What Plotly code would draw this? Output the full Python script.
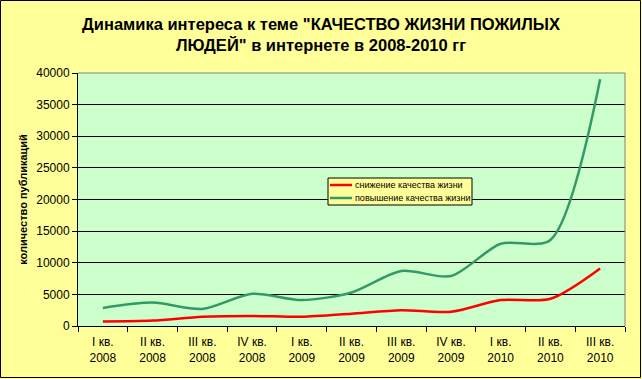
import plotly.graph_objects as go

categories = ["I кв.<br>2008", "II кв.<br>2008", "III кв.<br>2008", "IV кв.<br>2008",
              "I кв.<br>2009", "II кв.<br>2009", "III кв.<br>2009", "IV кв.<br>2009",
              "I кв.<br>2010", "II кв.<br>2010", "III кв.<br>2010"]
decrease = [700, 850, 1450, 1600, 1450, 1950, 2500, 2250, 4100, 4300, 9100]
increase = [2850, 3700, 2700, 5100, 4100, 5300, 8700, 7900, 13000, 13600, 39000]
series_names = ["снижение качества жизни", "повышение качества жизни"]
series_colors = ["#FF0000", "#339966"]
y_ticks = [0, 5000, 10000, 15000, 20000, 25000, 30000, 35000, 40000]
y_tick_labels = ["0", "5000", "10000", "15000", "20000", "25000", "30000", "35000", "40000"]

W, H = 642, 379
L, R, T, B = 78, 17, 73, 53
pw, ph = W - L - R, H - T - B


def px_x(px):
    return (px - L) / pw


def px_y(py):
    return (T + ph - py) / ph


fig = go.Figure()
for vals, name, col in zip([decrease, increase], series_names, series_colors):
    fig.add_trace(go.Scatter(x=categories, y=vals, mode="lines", name=name, showlegend=False,
                             line=dict(color=col, width=2.5, shape="spline", smoothing=0.8)))

# manual compact legend (Excel-style)
shapes = [
    dict(type="rect", xref="paper", yref="paper",
         x0=-(L - 0.5) / pw, x1=1 + (R - 1.5) / pw, y0=-(B - 1.5) / ph, y1=1 + (T - 0.5) / ph,
         line=dict(color="black", width=1), fillcolor="rgba(0,0,0,0)", layer="below"),
    dict(type="line", xref="paper", yref="paper", x0=0, x1=1, y0=1, y1=1,
         line=dict(color="#808080", width=1)),
    dict(type="line", xref="paper", yref="paper", x0=1, x1=1, y0=0, y1=1,
         line=dict(color="#808080", width=1)),
    dict(type="rect", xref="paper", yref="paper", x0=px_x(328), x1=px_x(472),
         y0=px_y(205), y1=px_y(178), line=dict(color="black", width=1), fillcolor="#FFFF99",
         layer="above"),
]
annotations = []
for i, (name, col) in enumerate(zip(series_names, series_colors)):
    yy = 185 + i * 13
    shapes.append(dict(type="line", xref="paper", yref="paper", x0=px_x(330), x1=px_x(352),
                       y0=px_y(yy), y1=px_y(yy), line=dict(color=col, width=2.5)))
    annotations.append(dict(text=name, xref="paper", yref="paper", x=px_x(353), y=px_y(yy),
                            xanchor="left", yanchor="middle", showarrow=False,
                            font=dict(size=9, color="black")))

fig.update_layout(
    width=W, height=H,
    margin=dict(l=L, r=R, t=T, b=B),
    paper_bgcolor="#FFFF99",
    plot_bgcolor="#CCFFCC",
    font=dict(family="Liberation Sans, Arial", size=12, color="black"),
    title=dict(text="<b>Динамика интереса к теме \"КАЧЕСТВО ЖИЗНИ ПОЖИЛЫХ<br>ЛЮДЕЙ\" в интернете в 2008-2010 гг</b>",
               x=0.5, xanchor="center", y=1 - 30 / H, yanchor="top",
               font=dict(size=16.5, family="Liberation Sans, Arial")),
    showlegend=False,
    xaxis=dict(type="category", showgrid=False, showline=True, linecolor="black", linewidth=1,
               ticks="outside", tickson="boundaries", ticklen=5, tickcolor="black",
               tickfont=dict(size=12), mirror=False, range=[-0.5, 10.5], ticklabelstandoff=5),
    yaxis=dict(range=[0, 40000], tickvals=y_ticks, ticktext=y_tick_labels,
               showgrid=True, gridcolor="black", gridwidth=1,
               showline=True, linecolor="black", ticks="outside", ticklen=5, tickcolor="black",
               tickfont=dict(size=12), zeroline=False,
               title=dict(text="<b>количество публикаций</b>", font=dict(size=11), standoff=6)),
    shapes=shapes,
    annotations=annotations,
)
fig.write_html("out.html", config={"displayModeBar": False},
               post_script="document.body.style.margin='0';document.body.style.padding='0';")
